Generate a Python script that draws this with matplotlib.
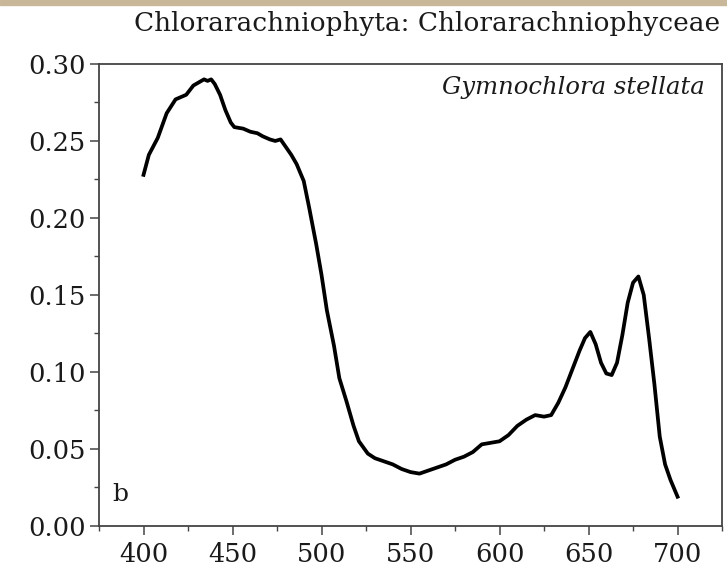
import matplotlib
matplotlib.use('Agg')
import matplotlib.pyplot as plt
from matplotlib.ticker import MultipleLocator, FormatStrFormatter
from matplotlib.patches import Rectangle

# absorption spectrum
wavelength = [400, 403, 408, 413, 418, 424, 428, 431, 434, 436, 438, 440, 443, 446, 449,
              451, 456, 460, 464, 467, 471, 474, 477, 480, 483, 486, 490, 493, 497,
              500, 503, 507, 510, 514, 518, 521, 526, 530, 535, 540, 545, 550, 555,
              560, 565, 570, 575, 580, 585, 590, 595, 600, 605, 610, 615, 620, 625,
              629, 633, 637, 641, 645, 648, 651, 654, 657, 660, 663, 666, 669, 672,
              675, 678, 681, 684, 687, 690, 693, 696, 700]
absorbance = [0.228, 0.241, 0.252, 0.268, 0.277, 0.280, 0.286, 0.288, 0.290, 0.289,
              0.290, 0.287, 0.280, 0.270, 0.262, 0.259, 0.258, 0.256, 0.255, 0.253,
              0.251, 0.250, 0.251, 0.246, 0.241, 0.235, 0.224, 0.207, 0.183,
              0.163, 0.140, 0.117, 0.096, 0.081, 0.065, 0.055, 0.047, 0.044, 0.042,
              0.040, 0.037, 0.035, 0.034, 0.036, 0.038, 0.040, 0.043, 0.045, 0.048,
              0.053, 0.054, 0.055, 0.059, 0.065, 0.069, 0.072, 0.071, 0.072, 0.080,
              0.090, 0.102, 0.114, 0.122, 0.126, 0.118, 0.106, 0.099, 0.098, 0.106,
              0.124, 0.145, 0.158, 0.162, 0.150, 0.122, 0.092, 0.058, 0.040, 0.030,
              0.019]

title = "Chlorarachniophyta: Chlorarachniophyceae"
species = "Gymnochlora stellata"
panel = "b"

plt.rcParams['font.family'] = ['DejaVu Serif']

fig = plt.figure(figsize=(7.27, 5.69), dpi=100)
# scan artefact: tan strip at the top edge
fig.patches.append(Rectangle((0, 0.991), 1, 0.009, transform=fig.transFigure,
                             color='#c9b79a', zorder=0))

ax = fig.add_axes([0.1362, 0.0756, 0.857, 0.812])
ax.plot(wavelength, absorbance, color='black', lw=2.7, solid_joinstyle='round')

ax.set_xlim(375, 725)
ax.set_ylim(0, 0.30)
ax.xaxis.set_major_locator(MultipleLocator(50))
ax.xaxis.set_minor_locator(MultipleLocator(25))
ax.yaxis.set_major_locator(MultipleLocator(0.05))
ax.yaxis.set_minor_locator(MultipleLocator(0.025))
ax.yaxis.set_major_formatter(FormatStrFormatter('%.2f'))

ax.tick_params(which='both', direction='out', top=False, right=False,
               color='#444444', labelsize=18.5, labelcolor='#1a1a1a')
ax.tick_params(which='major', length=6.5, width=1.1)
ax.tick_params(which='minor', length=3.5, width=1.0)
ax.tick_params(axis='y', which='both', pad=3)
ax.tick_params(axis='x', which='both', pad=5)
for sp in ax.spines.values():
    sp.set_color('#444444')
    sp.set_linewidth(1.3)

fig.text(0.99, 0.959, title, ha='right', va='center', fontsize=19, color='#1a1a1a')
ax.text(0.973, 0.95, species, transform=ax.transAxes, ha='right', va='center',
        fontsize=17.5, style='italic', color='#1a1a1a')
ax.text(0.021, 0.068, panel, transform=ax.transAxes, ha='left', va='center',
        fontsize=18, color='#1a1a1a')

fig.savefig('out.png', dpi=100)
